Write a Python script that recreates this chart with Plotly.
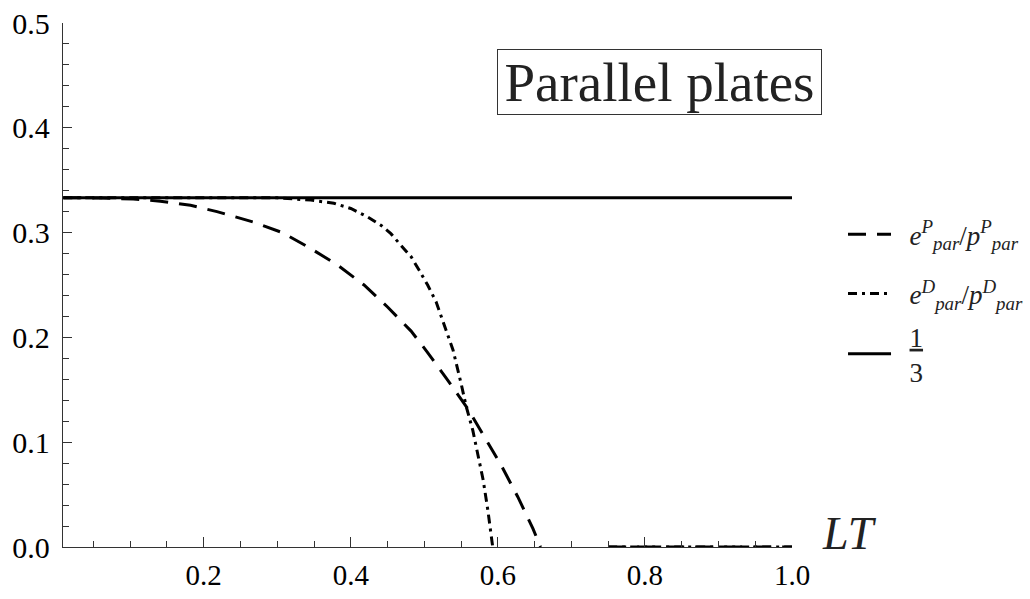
import plotly.graph_objects as go

# ---- data ----
x_P = [0.009, 0.06, 0.104, 0.141, 0.182, 0.218, 0.268, 0.307, 0.345, 0.382, 0.418,
       0.450, 0.482, 0.504, 0.530, 0.559, 0.580, 0.6045, 0.627, 0.6477, 0.658,
       None, 0.75, 1.0]
y_P = [0.3333, 0.3330, 0.332, 0.330, 0.326, 0.320, 0.310, 0.300, 0.285, 0.269, 0.250,
       0.229, 0.206, 0.186, 0.161, 0.132, 0.107, 0.078, 0.048, 0.0176, 0.0,
       None, 0.0, 0.0]

x_D = [0.009, 0.1, 0.2, 0.3, 0.3456, 0.377, 0.400, 0.4227, 0.441, 0.4545, 0.468,
       0.482, 0.493, 0.5045, 0.516, 0.526, 0.539, 0.550, 0.557, 0.566, 0.573,
       0.580, 0.5864, 0.593,
       None, 0.75, 1.0]
y_D = [0.3333, 0.3333, 0.3333, 0.3332, 0.331, 0.328, 0.323, 0.315, 0.307, 0.299, 0.288,
       0.277, 0.264, 0.250, 0.234, 0.214, 0.188, 0.156, 0.134, 0.111, 0.086,
       0.064, 0.035, 0.0,
       None, 0.0, 0.0]

x_third = [0.009, 1.0]
y_third = [1/3, 1/3]

x_ticks = [0.2, 0.4, 0.6, 0.8, 1.0]
x_ticklabels = ["0.2", "0.4", "0.6", "0.8", "1.0"]
y_ticks = [0.0, 0.1, 0.2, 0.3, 0.4, 0.5]
y_ticklabels = ["0.0", "0.1", "0.2", "0.3", "0.4", "0.5"]

NB = "\u00a0\u00a0"
name_P = NB + "<i>e</i><sup><i>P</i></sup><sub><i>par</i></sub>/<i>p</i><sup><i>P</i></sup><sub><i>par</i></sub>"
name_D = NB + "<i>e</i><sup><i>D</i></sup><sub><i>par</i></sub>/<i>p</i><sup><i>D</i></sup><sub><i>par</i></sub>"
name_third = NB + "<u>1</u><br>" + NB + "3"

SERIF = "Liberation Serif"

fig = go.Figure()
fig.add_trace(go.Scatter(x=x_third, y=y_third, mode="lines", name=name_third,
                         line=dict(color="black", width=3), legend="legend3"))
fig.add_trace(go.Scatter(x=x_P, y=y_P, mode="lines", name=name_P,
                         line=dict(color="black", width=3, dash="18px,11px"), legend="legend"))
fig.add_trace(go.Scatter(x=x_D, y=y_D, mode="lines", name=name_D,
                         line=dict(color="black", width=3, dash="9px,5px,3px,5px"), legend="legend2"))

axis_common = dict(showline=True, linecolor="#333", linewidth=1.3, showgrid=False,
                   zeroline=False, ticks="inside", tickcolor="#333", tickwidth=1.2)

fig.update_xaxes(range=[0.0086, 1.0], tickvals=x_ticks, ticktext=x_ticklabels, ticklen=10,
                 minor=dict(dtick=0.05, tick0=0, ticks="inside", ticklen=6, tickcolor="#333"),
                 ticklabelstandoff=2, tickfont=dict(family=SERIF, size=29, color="black"),
                 **axis_common)
fig.update_yaxes(range=[0, 0.5], tickvals=y_ticks, ticktext=y_ticklabels, ticklen=9,
                 minor=dict(dtick=0.02, tick0=0, ticks="inside", ticklen=6, tickcolor="#333"),
                 ticklabelstandoff=6, tickfont=dict(family=SERIF, size=30, color="black"),
                 **axis_common)

leg_common = dict(xanchor="left", yanchor="middle", bgcolor="rgba(0,0,0,0)",
                  font=dict(family=SERIF, size=27, color="#222"), itemwidth=43)
fig.update_layout(
    width=1030, height=599,
    margin=dict(l=63, r=238, t=23, b=52, autoexpand=False),
    paper_bgcolor="white", plot_bgcolor="white",
    font=dict(family=SERIF),
    showlegend=True,
    legend=dict(x=1.070, y=0.596, **leg_common),
    legend2=dict(x=1.070, y=0.483, **leg_common),
    legend3=dict(x=1.070, y=0.368, **leg_common),
)

fig.add_annotation(text="Parallel plates", xref="paper", yref="paper",
                   x=0.818, y=0.8875, xanchor="center", yanchor="middle",
                   showarrow=False, width=323, height=64, borderpad=0,
                   bordercolor="#333", borderwidth=1,
                   font=dict(family=SERIF, size=55, color="#222"))
fig.add_annotation(text="<i>LT</i>", xref="paper", yref="paper",
                   x=1.0384, y=-0.026, xanchor="left", yanchor="bottom",
                   showarrow=False, font=dict(family=SERIF, size=46, color="#222"))

fig.write_html("out.html")
